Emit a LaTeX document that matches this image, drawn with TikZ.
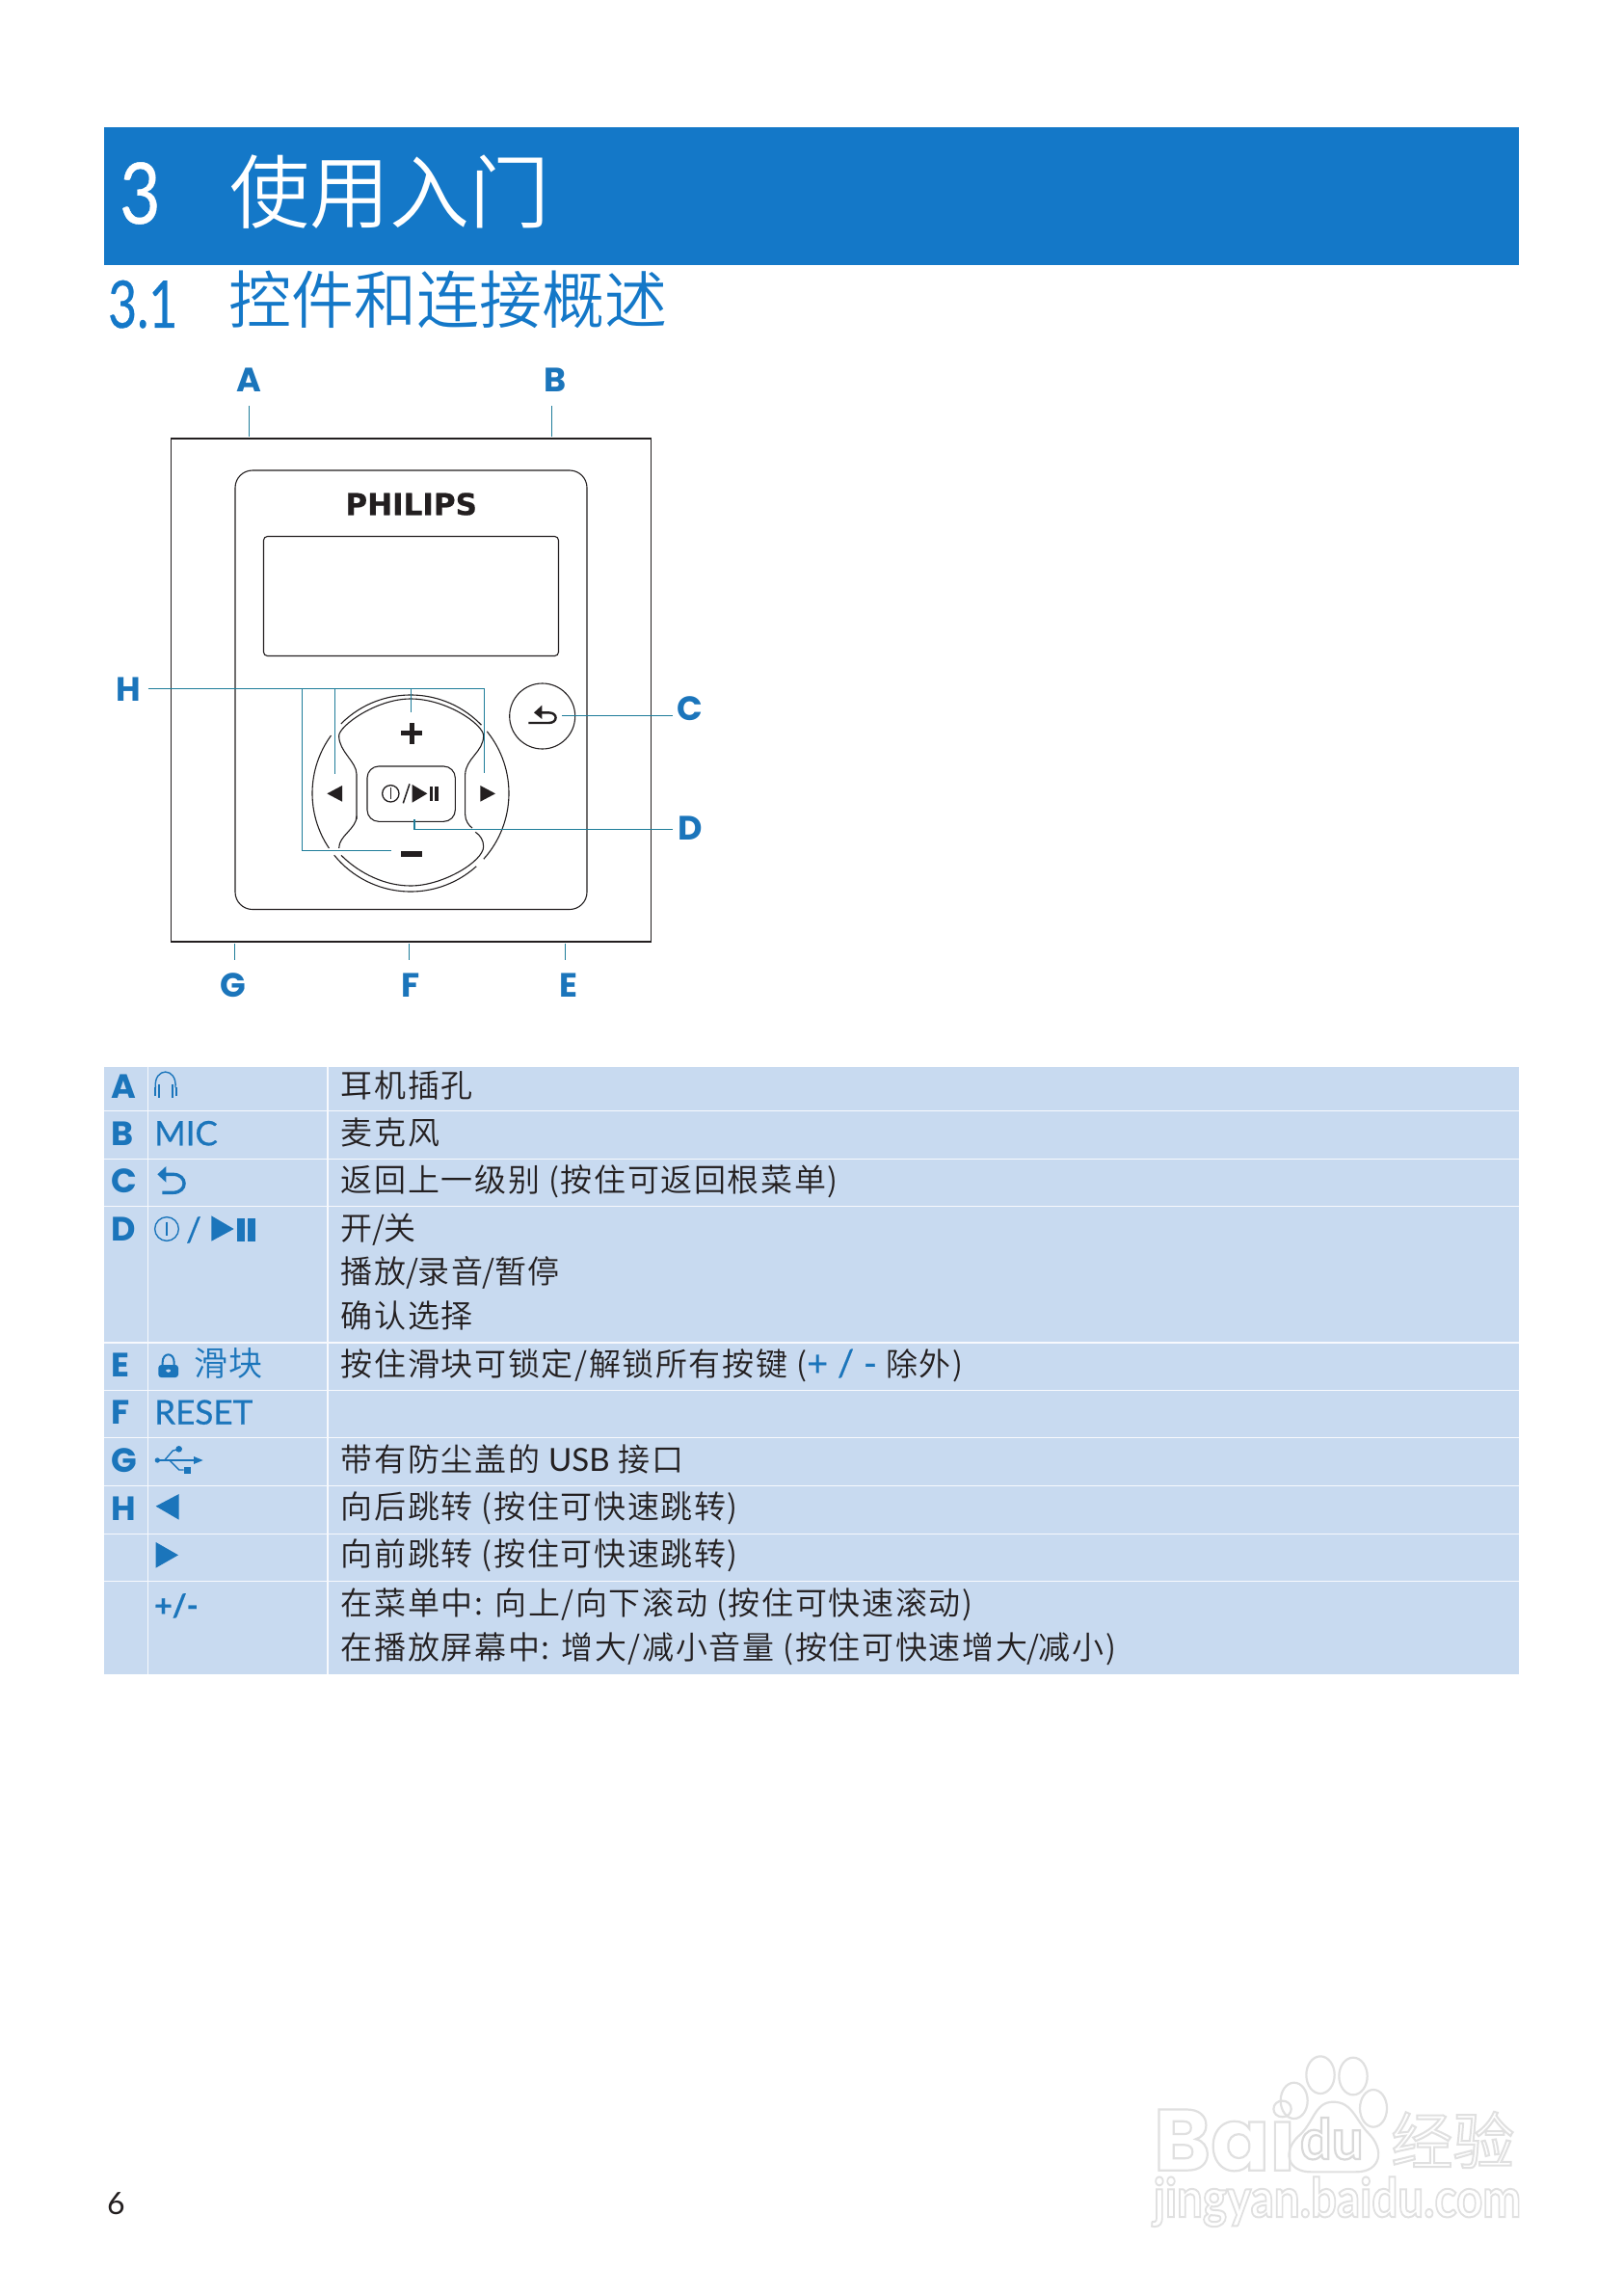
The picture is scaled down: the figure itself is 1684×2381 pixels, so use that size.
\documentclass[tikz,border=0pt]{standalone}
\usepackage{fontspec}
\setmainfont{Lato}
\newfontfamily\cjk[LetterSpace=5]{Noto Sans CJK SC DemiLight}
\newfontfamily\cjkhead{Noto Sans CJK SC DemiLight}
\newfontfamily\lat{Lato}
\newfontfamily\latm[FakeBold=0.5]{Lato}
\newfontfamily\pop{Poppins}
\newfontfamily\logofont[FakeBold=0.5]{DejaVu Sans}
\newcommand{\tsl}{\kern-0.5pt/\kern-0.5pt}
\definecolor{pblue}{HTML}{1478C8}
\definecolor{ink}{HTML}{231F20}
\definecolor{leader}{HTML}{1F7D9A}
\definecolor{lab}{HTML}{1B75BB}
\definecolor{rowfill}{HTML}{C8DAF0}
\definecolor{wm}{HTML}{E0E0E0}
\tikzset{
  dev/.style={draw=ink,line width=1.1pt},
  lead/.style={draw=leader,line width=1.1pt},
  callout/.style={text=lab,inner sep=0pt,font=\pop\bfseries\fontsize{35}{35}\selectfont},
  rowkey/.style={text=lab,inner sep=0pt,anchor=base west,font=\pop\bfseries\fontsize{35}{35}\selectfont},
  rowicon/.style={text=lab,inner sep=0pt,anchor=base west,font=\latm\fontsize{35}{35}\selectfont},
  desc/.style={text=ink,inner sep=0pt,anchor=west,text height=28pt,text depth=4pt,font=\cjk\fontsize{33}{33}\selectfont},
  iconline/.style={draw=lab,line width=1.4pt},
  sep/.style={draw=white!85!rowfill,line width=1.6pt},
  wmline/.style={draw=wm,line width=2.2pt},
}
\begin{document}
\begin{tikzpicture}[x=1pt,y=-1pt]
\useasboundingbox (0,0) rectangle (1684,2381);
\fill[white] (0,0) rectangle (1684,2381);
% heading band
\fill[pblue] (108,132) rectangle (1576,275);
\node[anchor=base west,inner sep=0pt,text=white,transform shape,xscale=0.83,font=\latm\fontsize{88}{88}\selectfont] (chap) at (124,232) {3};
\node[anchor=west,inner sep=0pt,text=white,font=\cjkhead\fontsize{83}{83}\selectfont] (chaptitle) at (238,199) {使用入门};
\node[anchor=base west,inner sep=0pt,text=pblue,transform shape,xscale=0.76,font=\latm\fontsize{68}{68}\selectfont] (sec) at (112,340) {3.1};
\node[anchor=west,inner sep=0pt,text=pblue,font=\cjkhead\fontsize{65}{65}\selectfont] (sectitle) at (237,311) {控件和连接概述};
% device
\draw[dev] (177.5,455) rectangle (675.5,977);
\draw[dev,rounded corners=18pt] (244,488) rectangle (609,943.5);
\draw[dev,rounded corners=4pt] (273.5,556.5) rectangle (579.5,680.5);
\node[inner sep=0pt,text=ink,font=\logofont\bfseries\fontsize{31}{31}\selectfont] (logo) at (426.7,523) {PHILIPS};
\node[draw=ink,line width=1.1pt,circle,minimum size=68pt,inner sep=0pt,fill=white] (back) at (562.7,743) {};
\begin{scope}[shift={(426,823)}]
\draw[dev] (-144:102) arc[start angle=-144,end angle=-214,radius=102];
\draw[dev] (-219:102) arc[start angle=-219,end angle=-312,radius=102];
\draw[dev] (-318:102) arc[start angle=-318,end angle=-399,radius=102];
\draw[dev] (-44:102) arc[start angle=-44,end angle=-135,radius=102];
\end{scope}
\begin{scope}[shift={(280,680)},scale=1/3]
\draw[dev] (270,510) -- (270,370) .. controls (270,330) and (215,300) .. (215,250) .. controls (215,220) and (330,135) .. (438,135) .. controls (550,135) and (665,215) .. (665,250) .. controls (665,300) and (610,320) .. (608,370) -- (608,495) .. controls (608,515) and (620,530) .. (630,537);
\draw[dev] (270,500) .. controls (270,540) and (215,560) .. (215,600);
\draw[dev] (222,622) .. controls (280,680) and (360,717) .. (438,717) .. controls (540,717) and (665,640) .. (665,595) .. controls (665,575) and (655,560) .. (640,550);
\draw[dev,rounded corners=12pt] (303,345) rectangle (577,517);
\fill[ink] (178,430) -- (225,405) -- (225,455) -- cycle;
\fill[ink] (655,405) -- (702,430) -- (655,455) -- cycle;
\fill[ink] (409,235) rectangle (474,250);
\fill[ink] (434,210) rectangle (449,275);
\fill[ink] (409,609) rectangle (474,628);
\draw[ink,line width=1.3pt] (376,430) circle[radius=26];
\draw[ink,line width=1.3pt] (376,412) -- (376,448);
\draw[ink,line width=1.5pt] (415,460) -- (435,400);
\fill[ink] (443,402) -- (490,430) -- (443,458) -- cycle;
\fill[ink] (497,408) rectangle (508,452);
\fill[ink] (514,408) rectangle (525,452);
\fill[ink] (847,155) -- (822,178) -- (847,198) -- cycle;
\draw[ink,line width=2.4pt] (845,178) -- (868,178) .. controls (897,178) and (897,210) .. (868,210) -- (805,210);
\end{scope}
% callouts
\node[callout] (A) at (258.7,394.5) {A};
\node[callout] (B) at (575.7,394.5) {B};
\node[callout] (C) at (716,735) {C};
\node[callout] (D) at (716,859) {D};
\node[callout] (E) at (590,1022) {E};
\node[callout] (F) at (426.3,1022) {F};
\node[callout] (G) at (241.5,1022) {G};
\node[callout] (H) at (133.7,715.4) {H};
\coordinate (a1) at (258.3,421);
\coordinate (a2) at (258.3,452.5);
\coordinate (b1) at (572.4,421);
\coordinate (b2) at (572.4,452.5);
\draw[lead] (a1) -- (a2);
\draw[lead] (b1) -- (b2);
\coordinate (g1) at (243.6,979.3);
\coordinate (g2) at (243.6,995.8);
\coordinate (f1) at (424.6,979.3);
\coordinate (f2) at (424.6,995.8);
\coordinate (e1) at (586.7,979.3);
\coordinate (e2) at (586.7,995.8);
\draw[lead] (g1) -- (g2);
\draw[lead] (f1) -- (f2);
\draw[lead] (e1) -- (e2);
\coordinate (h0) at (153.5,714.5);
\coordinate (hm) at (313.4,714.5);
\coordinate (hl) at (347.5,714.5);
\coordinate (hp) at (426.7,714.5);
\coordinate (hr) at (502.5,714.5);
\coordinate (hmb) at (313.4,882.9);
\coordinate (hme) at (406,882.9);
\coordinate (hle) at (347.5,803);
\coordinate (hpe) at (426.7,738.6);
\coordinate (hre) at (502.5,802);
\draw[lead] (h0) -- (hr) -- (hre);
\draw[lead] (hm) -- (hmb) -- (hme);
\draw[lead] (hl) -- (hle);
\draw[lead] (hp) -- (hpe);
\coordinate (c0) at (698.2,742.6);
\coordinate (c1) at (583.3,742.6);
\draw[lead] (c0) -- (c1);
\coordinate (d0) at (698.2,860.6);
\coordinate (d1) at (430,860.6);
\coordinate (d2) at (430,850.3);
\draw[lead] (d0) -- (d1) -- (d2);
% table
\fill[rowfill] (108,1106.7) rectangle (1576,1736.7);
\foreach \yy in {1152.3,1202.3,1251.3,1392.7,1442.3,1491.3,1541.3,1591.3,1640.3}
  \draw[sep] (108,\yy) -- (1576,\yy);
\draw[sep] (153.3,1106.7) -- (153.3,1736.7);
\draw[sep,line width=2.2pt] (339.7,1106.7) -- (339.7,1736.7);
\node[rowkey] (ka) at (115,1139) {A};
\node[rowkey] (kb) at (115,1188.3) {B};
\node[rowkey] (kc) at (115,1237.3) {C};
\node[rowkey] (kd) at (115,1287.7) {D};
\node[rowkey] (ke) at (115,1428.3) {E};
\node[rowkey] (kf) at (115,1477.3) {F};
\node[rowkey] (kg) at (115,1527.3) {G};
\node[rowkey] (kh) at (115,1577.7) {H};
\node[rowicon] (mic) at (160,1188.3) {MIC};
\node[rowicon] (reset) at (160,1477.7) {RESET};
\node[rowicon,font=\latm\bfseries\fontsize{32}{32}\selectfont] (pm) at (160,1677) {+/-};
\node[desc,text=lab,anchor=west,font=\cjk\fontsize{35}{35}\selectfont] (slider) at (201,1415) {滑块};
\begin{scope}[shift={(100,1100)},scale=1/3]
% headphones
\draw[iconline] (184,85) .. controls (178,20) and (252,20) .. (246,85);
\fill[lab] (180,85) rectangle (187,110);
\fill[lab] (193,75) rectangle (197,116);
\fill[lab] (233,75) rectangle (239,116);
\fill[lab] (245,85) rectangle (252,110);
% back
\fill[lab] (190,355) -- (217,330) -- (217,380) -- cycle;
\draw[draw=lab,line width=3.4pt] (215,355) -- (238,355) .. controls (285,355) and (285,412) .. (238,412) -- (205,412);
% power / play
\draw[iconline] (219,525) circle[radius=37];
\draw[iconline] (219,503) -- (219,547);
\node[rowicon,anchor=center] (dslash) at (303,528) {/};
\fill[lab] (358,484) -- (428,525) -- (358,563) -- cycle;
\fill[lab] (439,492) rectangle (462,563);
\fill[lab] (471,492) rectangle (495,563);
\end{scope}
\begin{scope}[shift={(100,1390)},scale=1/3]
% lock
\draw[draw=lab,line width=2pt] (206,85) -- (206,70) .. controls (206,38) and (242,38) .. (242,70) -- (242,85);
\fill[lab,rounded corners=3pt,even odd rule] (193,78) rectangle (255,117) (212,92) -- (236,92) -- (224,106) -- cycle;
% usb
\fill[lab] (190,375) circle[radius=8];
\draw[iconline] (190,375) -- (310,375);
\fill[lab] (332,375) -- (303,363) -- (303,387) -- cycle;
\draw[iconline] (212,375) -- (238,345) -- (250,342);
\fill[lab] (257,340) circle[radius=10];
\draw[iconline] (228,375) -- (258,405) -- (272,405);
\fill[lab] (272,395) rectangle (295,416);
% triangles
\fill[lab] (185,518) -- (257,480) -- (257,560) -- cycle;
\fill[lab] (185,630) -- (255,670) -- (185,710) -- cycle;
\end{scope}
\node[desc] (t1) at (353.7,1126) {耳机插孔};
\node[desc] (t2) at (353.7,1175.3) {麦克风};
\node[desc] (t3) at (353.7,1224) {返回上一级别 (按住可返回根菜单)};
\node[desc] (t4a) at (353.7,1274) {开\tsl 关};
\node[desc] (t4b) at (353.7,1319.3) {播放\tsl 录音\tsl 暂停};
\node[desc] (t4c) at (353.7,1365.7) {确认选择};
\node[desc] (t5) at (353.7,1415.7) {按住滑块可锁定/解锁所有按键 ({\latm\fontsize{38}{38}\selectfont\color{lab}+ / -} 除外)};
\node[desc] (t7) at (353.7,1514) {带有防尘盖的 {\lat USB} 接口};
\node[desc] (t8) at (353.7,1563) {向后跳转 (按住可快速跳转)};
\node[desc] (t9) at (353.7,1612.7) {向前跳转 (按住可快速跳转)};
\node[desc] (t10a) at (353.7,1663.3) {在菜单中: 向上/向下滚动 (按住可快速滚动)};
\node[desc] (t10b) at (353.7,1709.3) {在播放屏幕中: 增大/减小音量 (按住可快速增大\tsl 减小)};
% page number
\node[anchor=base west,inner sep=0pt,text=ink,font=\lat\fontsize{32}{32}\selectfont] (pageno) at (111,2297) {6};
% watermark
\begin{scope}[shift={(1150,2090)},scale=1/3]
\draw[wmline] (578,268) ellipse[x radius=42,y radius=56];
\draw[wmline] (660,188) ellipse[x radius=44,y radius=58];
\draw[wmline] (762,192) ellipse[x radius=44,y radius=58];
\draw[wmline] (825,292) ellipse[x radius=42,y radius=58];
\draw[wmline] (700,272) .. controls (640,272) and (640,340) .. (590,380) .. controls (540,430) and (560,490) .. (630,490) -- (770,490) .. controls (850,490) and (860,420) .. (810,370) .. controls (770,330) and (760,272) .. (700,272) -- cycle;
\node[anchor=base west,inner sep=0pt,font=\pop\bfseries\fontsize{90}{90}\selectfont] (wbai) at (140,485) {\special{pdf:code 1 Tr 2.2 w 0.88 0.88 0.88 RG}Bai};
\node[anchor=base,inner sep=0pt,font=\lat\bfseries\fontsize{58}{58}\selectfont] (wdu) at (695,450) {\special{pdf:code 1 Tr 2.2 w 0.85 0.85 0.85 RG}du};
\node[anchor=center,inner sep=0pt,font=\cjkhead\fontsize{64}{64}\selectfont] (wexp) at (1072,390) {\special{pdf:code 1 Tr 2 w 0.88 0.88 0.88 RG}经验};
\end{scope}
\node[anchor=base west,inner sep=0pt,transform shape,xscale=0.85,font=\lat\bfseries\fontsize{56}{56}\selectfont] (wurl) at (1196.7,2300) {\special{pdf:code 1 Tr 2 w 0.88 0.88 0.88 RG}jingyan.baidu.com};
\end{tikzpicture}
\end{document}
